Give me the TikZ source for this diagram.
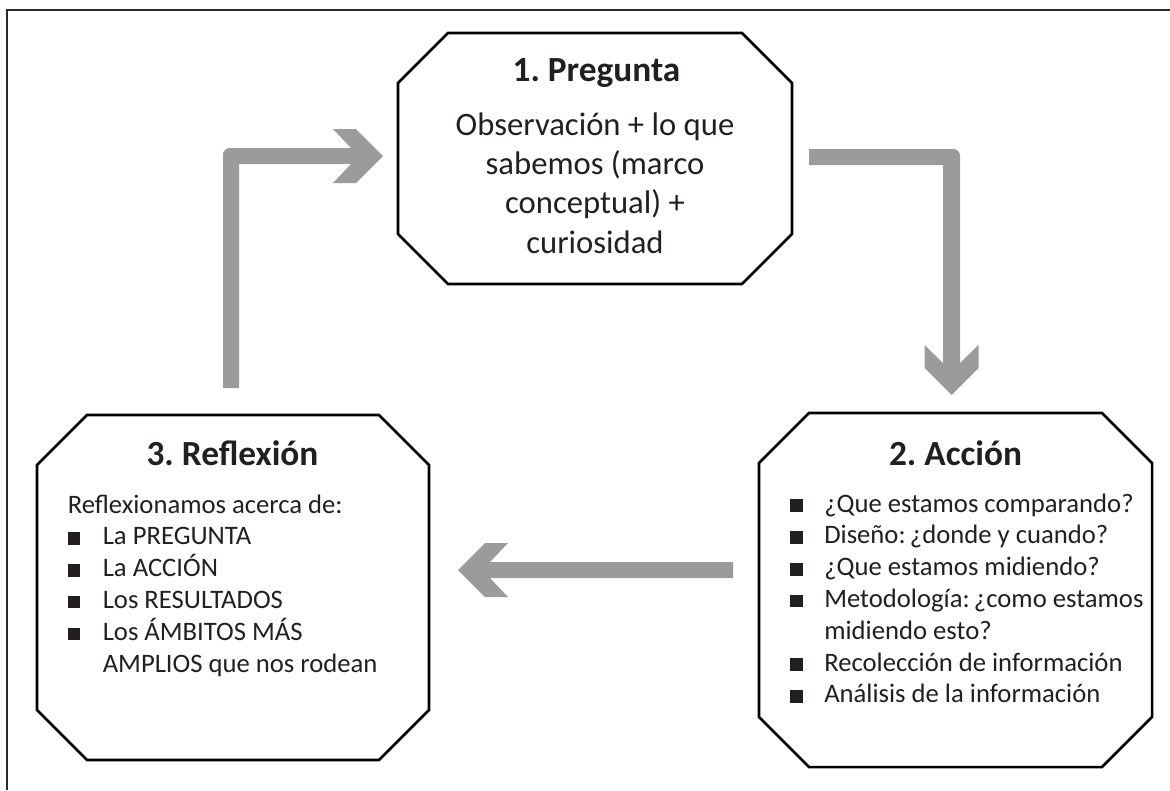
\documentclass[tikz,border=0pt]{standalone}
\usepackage{fontspec}
\setmainfont{Carlito}
\usetikzlibrary{calc}
\definecolor{arrowgray}{HTML}{9B9B9B}
\definecolor{ink}{HTML}{231F20}
\definecolor{framegray}{HTML}{2A2A2A}
\newcommand{\mysqbullet}{\rule{9.5pt}{9.5pt}}
\newcommand{\mycolsp}{\hspace{0.16em}}
\frenchspacing
\begin{document}
\begin{tikzpicture}[x=0.75pt,y=-0.75pt,
  octline/.style={draw=black,line width=1.9pt,line join=miter},
  framel/.style={draw=framegray,line width=1.5pt},
  boxarea/.style={inner sep=0pt,outer sep=0pt},
  titletext/.style={inner sep=0pt,text=ink,font=\fontsize{26.5}{31}\selectfont\bfseries},
  bodytext/.style={inner sep=0pt,text=ink,font=\fontsize{24.5}{29.5}\selectfont},
  listtext/.style={inner sep=0pt,text=ink,font=\fontsize{20}{23.85}\selectfont},
  bigarrow/.style={fill=arrowgray,draw=none}]
\useasboundingbox (0,0) rectangle (1170,790);
% frame (top and left sides only)
\draw[framel] (7,790) coordinate (fbl) -- (7,10) coordinate (ftl) -- (1170,10) coordinate (ftr);

% box areas
\node[boxarea,minimum width=295.5pt,minimum height=188.25pt] (pregunta) at (595,158.5) {};
\node[boxarea,minimum width=294.75pt,minimum height=265.5pt] (accion) at (955.5,590) {};
\node[boxarea,minimum width=294pt,minimum height=258.75pt] (reflexion) at (233,587.5) {};

% octagon outlines
\foreach \b in {pregunta,accion,reflexion}{
  \draw[octline] ($(\b.north west)+(50,0)$) -- ($(\b.north east)+(-50,0)$)
    -- ($(\b.north east)+(0,50)$) -- ($(\b.south east)+(0,-50)$)
    -- ($(\b.south east)+(-50,0)$) -- ($(\b.south west)+(50,0)$)
    -- ($(\b.south west)+(0,-50)$) -- ($(\b.north west)+(0,50)$) -- cycle;
}

% titles
\node[titletext,anchor=base] (t1) at (596.5,81) {1. Pregunta};
\node[titletext,anchor=base] (t2) at (955.5,465) {2. Acción};
\node[titletext,anchor=base] (t3) at (232.5,465) {3. Reflexión};

% body of box 1
\node[bodytext,anchor=base] (body1) at (595,135) {\begin{tabular}[t]{@{}c@{}}Observación + lo que\\ sabemos (marco\\ conceptual) +\\ curiosidad\end{tabular}};

% list of box 2
\node[listtext,anchor=base west] (list2) at (790,512) {\begin{tabular}[t]{@{}p{25.5pt}@{}l@{}}
\mysqbullet & ¿Que estamos comparando?\\
\mysqbullet & Diseño:\mycolsp¿donde y cuando?\\
\mysqbullet & ¿Que estamos midiendo?\\
\mysqbullet & Metodología:\mycolsp¿como estamos\\
 & midiendo esto?\\
\mysqbullet & Recolección de información\\
\mysqbullet & Análisis de la información
\end{tabular}};

% list of box 3
\node[listtext,anchor=base west] (list3) at (67.5,513) {\begin{tabular}[t]{@{}p{26.25pt}@{}l@{}}
\multicolumn{2}{@{}l@{}}{Reflexionamos acerca de:}\\
\mysqbullet & La PREGUNTA\\
\mysqbullet & La ACCIÓN\\
\mysqbullet & Los RESULTADOS\\
\mysqbullet & Los ÁMBITOS MÁS\\
 & AMPLIOS que nos rodean
\end{tabular}};

% arrow: Reflexion -> Pregunta
\fill[bigarrow] (223,388) [rounded corners=5pt] -- (223,148) [sharp corners] -- (351,148) -- (333,129) -- (356,129)
  -- (383,156) -- (356,183) -- (333,183) -- (351,164) -- (239,164) -- (239,388) -- cycle;
% arrow: Pregunta -> Accion
\fill[bigarrow] (809,149) [rounded corners=5pt] -- (960,149) [sharp corners] -- (960,363) -- (978.5,345) -- (978.5,368)
  -- (951.5,395) -- (924.5,368) -- (924.5,345) -- (943,363) -- (943,165) -- (809,165) -- cycle;
% arrow: Accion -> Reflexion
\fill[bigarrow] (733,562) -- (490,562) -- (508,543) -- (485,543) -- (458,570) -- (485,597) -- (508,597)
  -- (490,578) -- (733,578) -- cycle;
\end{tikzpicture}
\end{document}
